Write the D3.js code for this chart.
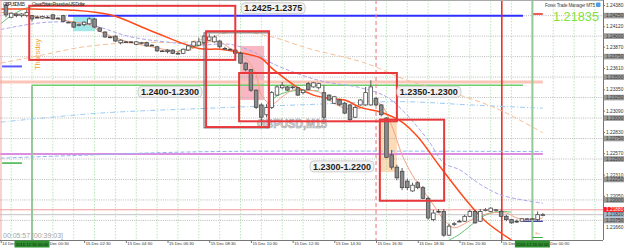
<!DOCTYPE html>
<html>
<head>
<meta charset="utf-8">
<script src="https://cdn.jsdelivr.net/npm/d3@7/dist/d3.min.js"></script>
<style>
  html, body { margin: 0; padding: 0; background: #fff; }
  svg { display: block; font-family: "Liberation Sans", Arial, sans-serif; }
</style>
</head>
<body>
<svg id="chart" width="625" height="248"></svg>
<script>
// GBPUSD M15 bars, first bar 14 Dec 22:45 (bar index -5 relative to 15 Dec 00:00)
const firstBarK = -5;
const barOpen = [1.2438,1.2423,1.2427,1.2425,1.2425, 1.2425,1.2423,1.2422,1.2423,1.2426, 1.2422,1.2425,1.2417,1.2417,1.2414,
  1.2414,1.2415,1.2421,1.2410,1.2405, 1.2399,1.2400,1.2392,1.2393,1.2393, 1.2390,1.2392,1.2392,1.2389,1.2387,
  1.2382,1.2383,1.2383,1.2379,1.2379, 1.2383,1.2388,1.2389,1.2392,1.2395, 1.2393,1.2394,1.2385,1.2384,1.2383,
  1.2379,1.2367,1.2359,1.2334,1.2316, 1.2304,1.2313,1.2328,1.2337,1.2338, 1.2337,1.2337,1.2331,1.2342,1.2338,
  1.2337,1.2331,1.2328,1.2318,1.2322, 1.2318,1.2316,1.2301,1.2316,1.2316, 1.2316,1.2324,1.2316,1.2300,1.2255,
  1.2240,1.2235,1.2223,1.2211,1.2221, 1.2215,1.2202,1.2176,1.2186,1.2186, 1.2157,1.2171,1.2174,1.2174,1.2180,
  1.2186,1.2174,1.2188,1.2186,1.2188, 1.2186,1.2180,1.2176,1.2174,1.2174, 1.2177,1.2177,1.2176,1.2182];
const barHigh = [1.2440,1.2429,1.2428,1.2428,1.2432, 1.2426,1.2425,1.2425,1.2425,1.2427, 1.2423,1.2426,1.2418,1.2418,1.2415,
  1.2418,1.2423,1.2422,1.2411,1.2406, 1.2400,1.2401,1.2396,1.2394,1.2394, 1.2394,1.2393,1.2393,1.2390,1.2388,
  1.2383,1.2384,1.2384,1.2381,1.2385, 1.2389,1.2394,1.2398,1.2401,1.2403, 1.2401,1.2395,1.2387,1.2385,1.2384,
  1.2381,1.2368,1.2360,1.2335,1.2318, 1.2317,1.2333,1.2340,1.2344,1.2339, 1.2339,1.2338,1.2335,1.2344,1.2344,
  1.2343,1.2340,1.2329,1.2327,1.2323, 1.2320,1.2317,1.2315,1.2323,1.2338, 1.2346,1.2326,1.2317,1.2301,1.2261,
  1.2243,1.2239,1.2226,1.2221,1.2223, 1.2217,1.2204,1.2188,1.2189,1.2189, 1.2171,1.2173,1.2176,1.2182,1.2188,
  1.2188,1.2189,1.2190,1.2191,1.2189, 1.2188,1.2182,1.2177,1.2176,1.2178, 1.2178,1.2178,1.2186,1.2184];
const barLow = [1.2423,1.2422,1.2423,1.2423,1.2423, 1.2418,1.2422,1.2421,1.2422,1.2420, 1.2421,1.2417,1.2416,1.2410,1.2412,
  1.2412,1.2414,1.2410,1.2405,1.2398, 1.2398,1.2393,1.2390,1.2392,1.2392, 1.2389,1.2390,1.2387,1.2388,1.2381,
  1.2381,1.2379,1.2378,1.2378,1.2378, 1.2382,1.2387,1.2388,1.2390,1.2394, 1.2392,1.2385,1.2384,1.2383,1.2378,
  1.2366,1.2357,1.2332,1.2311,1.2289, 1.2301,1.2311,1.2327,1.2335,1.2333, 1.2335,1.2327,1.2329,1.2334,1.2337,
  1.2335,1.2298,1.2321,1.2317,1.2315, 1.2305,1.2295,1.2300,1.2315,1.2315, 1.2315,1.2315,1.2302,1.2251,1.2237,
  1.2224,1.2212,1.2212,1.2210,1.2213, 1.2201,1.2176,1.2174,1.2184,1.2155, 1.2156,1.2168,1.2173,1.2173,1.2179,
  1.2171,1.2173,1.2186,1.2185,1.2186, 1.2179,1.2174,1.2171,1.2172,1.2173, 1.2176,1.2176,1.2174,1.2180];
const barClose = [1.2426,1.2428,1.2425,1.2427,1.2429, 1.2421,1.2422,1.2424,1.2423,1.2421, 1.2422,1.2418,1.2417,1.2411,1.2414,
  1.2417,1.2421,1.2411,1.2406,1.2399, 1.2399,1.2394,1.2395,1.2393,1.2392, 1.2393,1.2392,1.2388,1.2389,1.2382,
  1.2382,1.2381,1.2379,1.2379,1.2384, 1.2388,1.2393,1.2393,1.2400,1.2399, 1.2399,1.2387,1.2385,1.2384,1.2379,
  1.2367,1.2359,1.2334,1.2313,1.2301, 1.2313,1.2331,1.2338,1.2340,1.2334, 1.2338,1.2328,1.2334,1.2335,1.2343,
  1.2342,1.2301,1.2322,1.2326,1.2316, 1.2306,1.2298,1.2313,1.2322,1.2331, 1.2338,1.2316,1.2304,1.2252,1.2240,
  1.2227,1.2215,1.2215,1.2218,1.2215, 1.2202,1.2178,1.2184,1.2186,1.2157, 1.2168,1.2171,1.2174,1.2180,1.2186,
  1.2172,1.2186,1.2188,1.2190,1.2188, 1.2180,1.2176,1.2172,1.2173,1.2177, 1.2177,1.2177,1.2182,1.2182];

// indicator lines: [bar index from 15 Dec 00:00, price]
const redMa = [[-6,1.2433],[0,1.2433],[7,1.2432],[15,1.2426],[23,1.2406],[32,1.2385],[36,1.2384],[39,1.2381],[42,1.2377],
  [44,1.2373],[46,1.2361],[49,1.2346],[51,1.2337],[54,1.2328],[57,1.2324],[60,1.2322],[63,1.2313],[67,1.2307],
  [71,1.2295],[74,1.2277],[78,1.2243],[83,1.2202],[87,1.2174],[92,1.2151]];
const salmonMa = [[-6,1.2429],[-2,1.2426],[2,1.2423],[5,1.2421],[8,1.2417],[11,1.2414],[13,1.2406],[16,1.2398],[19,1.2392],
  [23,1.2387],[28,1.2381],[30,1.2383],[32,1.2388],[34,1.2393],[36,1.2393],[38,1.2385],[41,1.2373],[43,1.2353],[44,1.2328],
  [46,1.2317],[48,1.2326],[50,1.2334],[52,1.2334],[55,1.2332],[57,1.2322],[60,1.2312],[63,1.2312],[65,1.2322],[67,1.2316],
  [69,1.2291],[71,1.2255],[73,1.2230],[75,1.2212],[77,1.2194],[79,1.2176],[81,1.2166],[83,1.2171],[85,1.2178],[88,1.2184],
  [91,1.2184],[93,1.2178],[95,1.2176],[98,1.2178]];
const greenMa = [[-6,1.2415],[-4,1.2425],[-2,1.2432],[0,1.2436],[7,1.2438],[15,1.2436], null,
  [28,1.2382],[30,1.2385],[32,1.2389],[34,1.2395], null,
  [45,1.2317],[47,1.2327],[49,1.2332],[52,1.2334],[55,1.2333], null,
  [80,1.2151],[82,1.2158],[84,1.2168],[86,1.2178],[88,1.2184],[90,1.2186],[92,1.2185]];
const lavenderMa = [[-6,1.2408],[3,1.2417],[11,1.2414],[19,1.2399],[27,1.2392],[32,1.2389],[38,1.2390],[43,1.2379],[46,1.2367],
  [55,1.2346],[63,1.2337],[68,1.2326],[71,1.2310],[76,1.2273],[79,1.2245],[82,1.2237],[86,1.2219],[90,1.2206],[98,1.2196]];
const peachMa = [[-6,1.2367],[2,1.2377],[10,1.2387],[19,1.2392],[30,1.2393],[34,1.2398],[39,1.2406],[46,1.2399],[53,1.2385],
  [64,1.2367],[72,1.2346],[80,1.2332],[89,1.2312],[98,1.2282]];
const skyMa = [[-6,1.2295],[13,1.2306],[34,1.2312],[51,1.2316],[71,1.2320],[84,1.2316],[98,1.2312]];
const blueDash = [[-6,1.2251],[7,1.2254],[34,1.2259],[98,1.2259]];

// axes
const timeTicks = ["2016-12-14 22:30","2016-12-15 00:30","2016-12-15 02:30","2016-12-15 04:30","2016-12-15 06:30",
  "2016-12-15 08:30","2016-12-15 10:30","2016-12-15 12:30","2016-12-15 14:30","2016-12-15 16:30","2016-12-15 18:30",
  "2016-12-15 20:30","2016-12-15 22:30","2016-12-16 00:30"];
const priceTicks = [1.2438,1.2412,1.2387,1.2361,1.2335,1.2309,1.2283,1.2257,1.2231,1.2205];
const levelPrices = [1.2425,1.2400,1.2375,1.2350,1.2325,1.2300,1.2275,1.2250,1.2225,1.2200,1.2175];

// drawn objects
const zones = [
  {t0:"2016-12-15 01:58", t1:"2016-12-15 03:01", p0:1.2424, p1:1.2406, fill:"#8fe3e3"},
  {t0:"2016-12-15 09:59", t1:"2016-12-15 11:08", p0:1.2388, p1:1.2322, fill:"#f8aab9"},
  {t0:"2016-12-15 16:41", t1:"2016-12-15 17:30", p0:1.2300, p1:1.2234, fill:"#fdd5aa"}];
const boxes = [
  {t0:"2016-12-14 23:52", t1:"2016-12-15 09:45", p0:1.2437, p1:1.2371, color:"#e8383c", w:2},
  {t0:"2016-12-15 08:15", t1:"2016-12-15 11:20", p0:1.2404, p1:1.2288, color:"#666", w:1},
  {t0:"2016-12-15 08:21", t1:"2016-12-15 11:22", p0:1.2406, p1:1.2289, color:"#e8383c", w:2},
  {t0:"2016-12-15 09:56", t1:"2016-12-15 17:30", p0:1.2355, p1:1.2296, color:"#e8383c", w:2},
  {t0:"2016-12-15 16:41", t1:"2016-12-15 19:46", p0:1.2298, p1:1.2199, color:"#e8383c", w:2}];
const boxLabels = [
  {t:"2016-12-15 11:34", p:1.2434, text:"1.2425-1.2375"},
  {t:"2016-12-15 06:37", p:1.2332, text:"1.2400-1.2300"},
  {t:"2016-12-15 19:02", p:1.2332, text:"1.2350-1.2300"},
  {t:"2016-12-15 14:52", p:1.2241, text:"1.2300-1.2200"}];
const hLines = [
  {p:1.2344, t0:null, t1:"2016-12-16 00:30", color:"#f9c6b8", w:3},
  {p:1.2340, t0:"2016-12-15 00:00", t1:"2016-12-15 23:33", color:"#6ccf6c", w:1.5},
  {p:1.2425, t0:"2016-12-15 01:44", t1:"2016-12-15 23:33", color:"#2f2fff", w:2},
  {p:1.2256, t0:null, t1:"2016-12-16 00:30", color:"#dc8fe0", w:2},
  {p:1.2188, t0:null, t1:null, color:"#f29a9a", w:1},
  {p:1.2182, t0:null, t1:null, color:"#c4c4c4", w:1},
  {p:1.2174, t0:"2016-12-15 23:33", t1:"2016-12-16 00:30", color:"#26268f", w:1.2},
  {p:1.2363, t0:"2016-12-14 22:34", t1:"2016-12-14 23:31", color:"#5a5aff", w:2},
  {p:1.2245, t0:"2016-12-14 22:34", t1:"2016-12-14 23:31", color:"#3cb043", w:1.5},
  {p:1.2427, t0:"2016-12-16 00:02", t1:"2016-12-16 00:30", color:"#e8261c", w:1.5}];
const vLines = [
  {t:"2016-12-15 00:00", p0:1.2340, color:"#94c894", w:2, dash:null},
  {t:"2016-12-16 00:00", p0:null, color:"#94c894", w:2, dash:null},
  {t:"2016-12-15 16:30", p0:null, color:"#f08a8a", w:1.2, dash:"4,3"},
  {t:"2016-12-15 22:32", p0:null, color:"#e8261c", w:1.5, dash:null}];
const axisLabels = [
  {p:1.2188, text:"1.21880", fill:"#ff1c1c", color:"#fff"},
  {p:1.2182, text:"1.21820", fill:"#a3b6ca", color:"#333"},
  {p:1.2166, text:"1.21660", fill:"none", color:"#333"}];
const sepLabels = [
  {t:"2016-12-15 00:00", text:"2016.12.15 00:00"},
  {t:"2016-12-16 00:00", text:"2016.12.16 00:00"}];

const svg = d3.select("#chart");
const plotR = 603, plotB = 240;
const parse = d3.timeParse("%Y-%m-%d %H:%M");
const day0 = parse("2016-12-15 00:00");
const x = d3.scaleTime().domain([day0, parse("2016-12-16 00:00")]).range([32, 532.4]);
const y = d3.scaleLinear().domain([1.21511, 1.24441]).range([240, 0]);
const xb = k => x(d3.timeMinute.offset(day0, 15 * k));
const xt = s => s === null ? null : x(parse(s));

svg.append("rect").attr("width", 625).attr("height", 248).attr("fill", "#fff");
svg.append("clipPath").attr("id", "clip").append("rect").attr("width", plotR).attr("height", plotB);
const plot = svg.append("g").attr("clip-path", "url(#clip)");

// zones
plot.append("g").selectAll("rect").data(zones).join("rect")
  .attr("x", d => xt(d.t0)).attr("y", d => y(d.p0))
  .attr("width", d => xt(d.t1) - xt(d.t0)).attr("height", d => y(d.p1) - y(d.p0))
  .attr("fill", d => d.fill).attr("opacity", 0.85);

// hourly grid
plot.append("g").selectAll("line").data(d3.timeHour.range(x.invert(0), x.invert(plotR))).join("line")
  .attr("x1", d => x(d)).attr("x2", d => x(d)).attr("y1", 0).attr("y2", plotB)
  .attr("stroke", "#a9dfa9").attr("stroke-width", 0.8).attr("stroke-dasharray", "1.5,1.5");
// price level grid
plot.append("g").selectAll("line").data(levelPrices).join("line")
  .attr("x1", 0).attr("x2", plotR).attr("y1", d => y(d)).attr("y2", d => y(d))
  .attr("stroke", "#a8a8a8").attr("stroke-width", 0.8).attr("stroke-dasharray", "1,1.2");

// horizontal objects
plot.append("g").selectAll("line").data(hLines).join("line")
  .attr("x1", d => d.t0 ? xt(d.t0) : 0).attr("x2", d => d.t1 ? xt(d.t1) : plotR)
  .attr("y1", d => y(d.p)).attr("y2", d => y(d.p))
  .attr("stroke", d => d.color).attr("stroke-width", d => d.w);

// vertical objects
plot.append("g").selectAll("line").data(vLines).join("line")
  .attr("x1", d => xt(d.t)).attr("x2", d => xt(d.t))
  .attr("y1", d => d.p0 ? y(d.p0) : 0).attr("y2", plotB)
  .attr("stroke", d => d.color).attr("stroke-width", d => d.w)
  .attr("stroke-dasharray", d => d.dash);

// watermark + day name
plot.append("text").attr("x", 257).attr("y", 128).attr("font-size", 13).attr("font-weight", "bold")
  .attr("textLength", 70).attr("lengthAdjust", "spacingAndGlyphs")
  .attr("fill", "#d9d9d9").attr("stroke", "#9a9a9a").attr("stroke-width", 0.6).text("GBPUSD,M15");
plot.append("text").attr("transform", `translate(${x(day0) + 8},70) rotate(-90)`)
  .attr("font-size", 7.5).attr("fill", "#f2a530").text("Thursday");

// indicator lines
const line = d3.line().defined(d => d !== null).x(d => xb(d[0])).y(d => y(d[1])).curve(d3.curveCatmullRom.alpha(0.5));
const lines = [
  {data: skyMa, color:"#9ccbf2", w:1, dash:"5,2,1,2"},
  {data: blueDash, color:"#8fb6ee", w:1, dash:"4,2"},
  {data: peachMa, color:"#f7bf95", w:1, dash:"5,3"},
  {data: lavenderMa, color:"#aca6ea", w:1, dash:"4,2"},
  {data: greenMa, color:"#4dbb5f", w:0.9, dash:null},
  {data: salmonMa, color:"#f3a184", w:1, dash:null},
  {data: redMa, color:"#ff4b1c", w:1.5, dash:null}];
plot.append("g").selectAll("path").data(lines).join("path")
  .attr("d", d => line(d.data)).attr("fill", "none")
  .attr("stroke", d => d.color).attr("stroke-width", d => d.w).attr("stroke-dasharray", d => d.dash);

// candles
const bars = barOpen.map((o, i) => ({k: i + firstBarK, o, h: barHigh[i], l: barLow[i], c: barClose[i]}));
const cg = plot.append("g");
cg.selectAll("line").data(bars).join("line")
  .attr("x1", d => xb(d.k)).attr("x2", d => xb(d.k))
  .attr("y1", d => y(d.h)).attr("y2", d => y(d.l))
  .attr("stroke", "#4a4a4a").attr("stroke-width", 0.9);
cg.selectAll("rect").data(bars).join("rect")
  .attr("x", d => xb(d.k) - 1.8).attr("width", 3.6)
  .attr("y", d => y(Math.max(d.o, d.c)))
  .attr("height", d => Math.max(0.8, Math.abs(y(d.o) - y(d.c))))
  .attr("fill", d => d.c < d.o ? "#8a8a8a" : "#fff")
  .attr("stroke", "#4a4a4a").attr("stroke-width", 0.8);

// rectangles
plot.append("g").selectAll("rect").data(boxes).join("rect")
  .attr("x", d => xt(d.t0)).attr("y", d => y(d.p0))
  .attr("width", d => xt(d.t1) - xt(d.t0)).attr("height", d => y(d.p1) - y(d.p0))
  .attr("fill", "none").attr("stroke", d => d.color).attr("stroke-width", d => d.w);

// range labels
const lg = plot.append("g").selectAll("g").data(boxLabels).join("g")
  .attr("transform", d => `translate(${xt(d.t)},${y(d.p)})`);
lg.append("rect").attr("x", -32).attr("y", -5.5).attr("width", 64).attr("height", 11).attr("rx", 4)
  .attr("fill", "#f3f3f3").attr("stroke", "#c4c4c4").attr("stroke-width", 0.8);
lg.append("text").attr("text-anchor", "middle").attr("dy", "0.35em")
  .attr("font-size", 9).attr("font-weight", "bold").attr("fill", "#1e1e1e")
  .attr("textLength", 58).attr("lengthAdjust", "spacingAndGlyphs").text(d => d.text);

// header texts
plot.append("text").attr("x", 3).attr("y", 6).attr("font-size", 5).attr("fill", "#333")
  .attr("textLength", 22).text("GBPUSD,M15");
plot.append("text").attr("x", 32).attr("y", 6).attr("font-size", 5).attr("fill", "#333")
  .attr("textLength", 53).text("Great Britain Pound vs US Dollar");
plot.append("text").attr("x", 545).attr("y", 7).attr("font-size", 4.6).attr("fill", "#444")
  .attr("textLength", 50).text("Forex Trade Manager MT5");
plot.append("rect").attr("x", 596).attr("y", 2.5).attr("width", 4.5).attr("height", 4.5).attr("rx", 1)
  .attr("fill", "#4f9fe0");
plot.append("text").attr("x", 553).attr("y", 21).attr("font-size", 13).attr("fill", "#7fe23a")
  .attr("textLength", 46).attr("lengthAdjust", "spacingAndGlyphs").text("1.21835");
plot.append("text").attr("x", 3).attr("y", 237.5).attr("font-size", 7).attr("fill", "#a6a6a6")
  .attr("textLength", 60).text("00:05:57 [00:39:03]");
plot.append("text").attr("x", xt("2016-12-16 00:00") + 3).attr("y", 235).attr("font-size", 4)
  .attr("fill", "#f2a530").text("Fri");
plot.append("line").attr("x1", xt("2016-12-16 00:00")).attr("x2", xt("2016-12-16 00:30"))
  .attr("y1", 237.5).attr("y2", 237.5).attr("stroke", "#3cb043").attr("stroke-width", 1);

// frame
svg.append("line").attr("x1", 0).attr("x2", plotR).attr("y1", 0.5).attr("y2", 0.5).attr("stroke", "#aaa");
svg.append("line").attr("x1", 1).attr("x2", 1).attr("y1", 0).attr("y2", plotB).attr("stroke", "#f3a3a3");

// bottom axis
const fmt = d3.timeFormat("%d %b %H:%M");
const xAxis = svg.append("g").attr("transform", `translate(0,${plotB})`)
  .call(d3.axisBottom(x).tickValues(timeTicks.map(parse)).tickFormat(fmt).tickSize(3).tickSizeOuter(0));
xAxis.select(".domain").attr("d", `M0,0.5H${plotR}`).attr("stroke", "#777");
xAxis.selectAll(".tick line").attr("stroke", "#777");
xAxis.selectAll(".tick text").attr("text-anchor", "start").attr("x", 1).attr("y", 2.5)
  .attr("font-size", 4.2).attr("fill", "#333").attr("font-family", "Liberation Sans, Arial, sans-serif");

// right axis
const yAxis = svg.append("g").attr("transform", `translate(${plotR},0)`)
  .call(d3.axisRight(y).tickValues(priceTicks).tickFormat(d3.format(".5f")).tickSize(2).tickSizeOuter(0));
yAxis.select(".domain").attr("d", `M0.5,0V${plotB}`).attr("stroke", "#777");
yAxis.selectAll(".tick line").attr("stroke", "#777");
yAxis.selectAll(".tick text").attr("x", 3).attr("font-size", 4.8).attr("fill", "#333")
  .attr("font-family", "Liberation Sans, Arial, sans-serif");

// level price boxes on the axis
const lb = svg.append("g").selectAll("g").data(levelPrices).join("g")
  .attr("transform", d => `translate(${plotR + 1},${y(d)})`);
lb.append("rect").attr("x", 0).attr("y", -2.8).attr("width", 20).attr("height", 5.6).attr("fill", "#9a9a9a");
lb.append("text").attr("x", 2).attr("dy", "0.35em").attr("font-size", 4.8).attr("fill", "#3a3a3a")
  .text(d => d3.format(".5f")(d));

const ab = svg.append("g").selectAll("g").data(axisLabels).join("g")
  .attr("transform", d => `translate(${plotR + 1},${y(d.p)})`);
ab.append("rect").attr("x", 0).attr("y", -2.8).attr("width", 20).attr("height", 5.6).attr("fill", d => d.fill);
ab.append("text").attr("x", 2).attr("dy", "0.35em").attr("font-size", 4.8).attr("fill", d => d.color)
  .text(d => d.text);

// day separator labels on time axis
const sl = svg.append("g").selectAll("g").data(sepLabels).join("g")
  .attr("transform", d => `translate(${xt(d.t)},${plotB + 0.5})`);
sl.append("rect").attr("x", -17.5).attr("width", 35).attr("height", 7).attr("fill", "#2f8f2f");
sl.append("text").attr("text-anchor", "middle").attr("y", 5).attr("font-size", 4.2).attr("fill", "#0d2a0d")
  .text(d => d.text);
</script>
</body>
</html>
